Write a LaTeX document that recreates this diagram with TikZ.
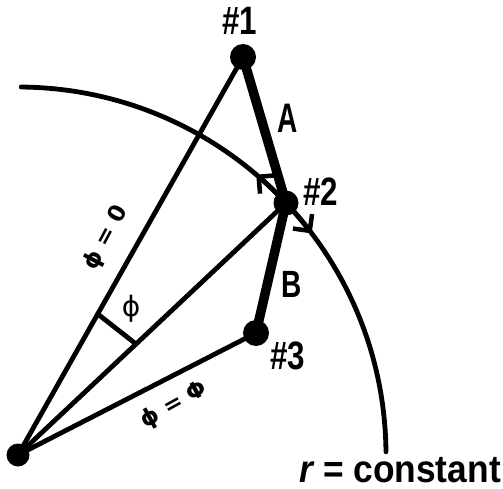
\documentclass[tikz,border=0pt]{standalone}
\usepackage{fontspec}
\setmainfont{Liberation Sans}
\newfontfamily\greekfont{DejaVu Sans}
\usetikzlibrary{calc,arrows.meta}
\begin{document}
\begin{tikzpicture}[x=1pt,y=1pt,
  dot/.style={circle,fill=black,inner sep=0pt,minimum size=#1},
  thinline/.style={line width=4.8pt,line cap=round},
  thickline/.style={line width=9.5pt,line cap=round},
  lbl/.style={font=\fontsize{33}{36}\selectfont\bfseries,inner sep=0pt},
  greek/.style={font=\greekfont\bfseries\fontsize{23}{26}\selectfont,inner sep=0pt},
  tip/.style={thinline,-{Straight Barb[length=12pt,width=24pt,line width=4.5pt]}}
]
\useasboundingbox (0,0) rectangle (503,488);
% points
\node[dot=23pt] (o) at (18,33) {};
\node[dot=26pt] (p1) at (243,431) {};
\node[dot=25pt] (p2) at (286,285) {};
\node[dot=26pt] (p3) at (256,155) {};
% r = constant arc
\draw[thinline] ($(o.center)+(89.5:368)$) arc[start angle=89.5,end angle=0.5,radius=368];
% arc arrows at #2
\draw[tip] (p2.center) arc[start angle=43.2,end angle=49.6,radius=368];
\draw[tip] (p2.center) arc[start angle=43.2,end angle=37.0,radius=368];
% radial lines
\draw[thinline] (o.center) -- (p1.center);
\draw[thinline] (o.center) -- (p2.center);
\draw[thinline] (o.center) -- (p3.center);
% segments A and B
\draw[thickline] (p1.center) -- (p2.center);
\draw[thickline] (p2.center) -- (p3.center);
% angle marker
\coordinate (c1) at ($(o.center)!162pt!(p1.center)$);
\coordinate (c2) at ($(o.center)!162pt!(p2.center)$);
\draw[thinline] (c1) -- (c2);
% labels
\node[lbl] (l1) at (240,467) {\scalebox{0.95}[1.2]{\#1}};
\node[lbl] (l2) at (321,296) {\scalebox{0.95}[1.2]{\#2}};
\node[lbl] (l3) at (288,132) {\scalebox{0.95}[1.2]{\#3}};
\node[lbl] (la) at (288,370) {\scalebox{0.85}[1.25]{A}};
\node[lbl] (lb) at (292,204) {\scalebox{0.85}[1.15]{B}};
\node[font=\fontsize{35}{40}\selectfont\bfseries,inner sep=0pt,anchor=base east] (rc) at (501,6) {\scalebox{1.01}[1.1]{{\itshape r} = constant}};
\node[font=\greekfont\fontsize{28}{30}\selectfont,inner sep=0pt] (ang) at (131,179) {ϕ};
\node[greek,rotate=62] (z0) at (106,250) {ϕ = 0};
\node[greek,rotate=29] (zf) at (174,83) {ϕ = Φ};
\end{tikzpicture}
\end{document}
